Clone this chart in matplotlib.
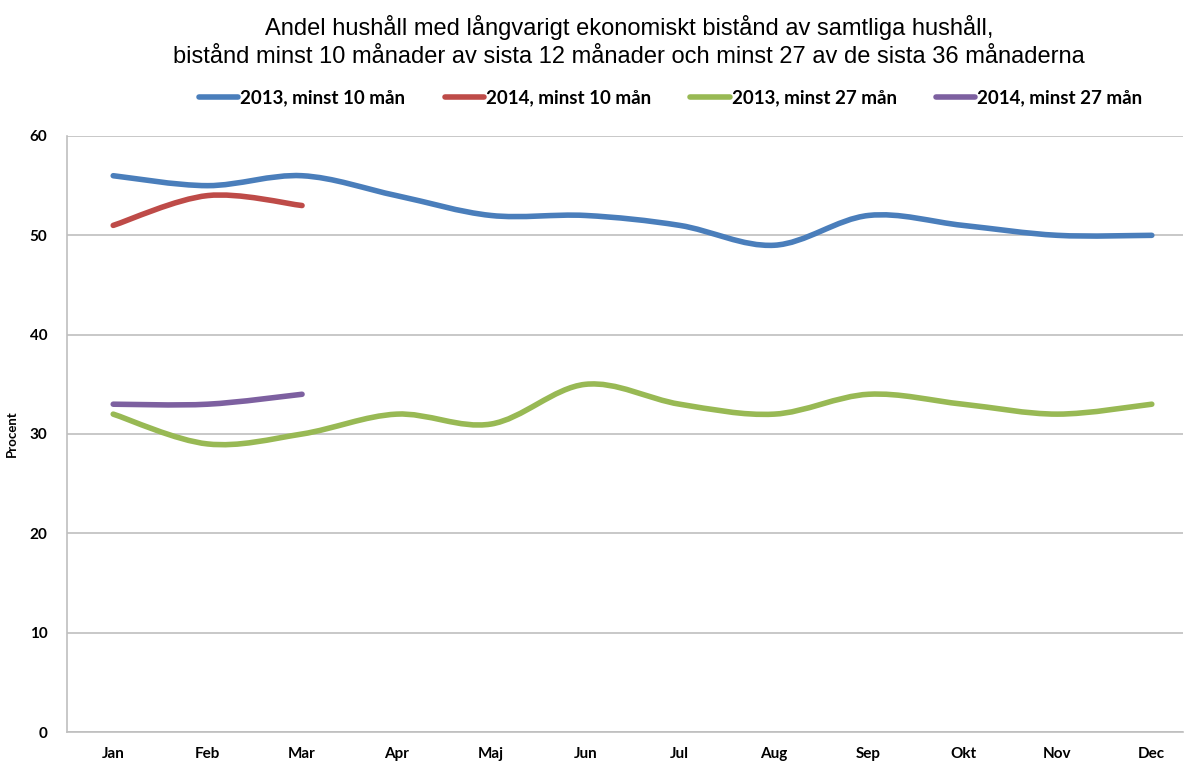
import matplotlib
matplotlib.use("Agg")
import matplotlib.pyplot as plt
import numpy as np
from matplotlib.path import Path
from matplotlib.patches import PathPatch
from matplotlib.lines import Line2D

months = ["Jan", "Feb", "Mar", "Apr", "Maj", "Jun", "Jul", "Aug", "Sep", "Okt", "Nov", "Dec"]
s2013_10 = [56, 55, 56, 54, 52, 52, 51, 49, 52, 51, 50, 50]
s2014_10 = [51, 54, 53]
s2013_27 = [32, 29, 30, 32, 31, 35, 33, 32, 34, 33, 32, 33]
s2014_27 = [33, 33, 34]

labels = ["2013, minst 10 mån", "2014, minst 10 mån", "2013, minst 27 mån", "2014, minst 27 mån"]
colors = ["#4A7EBB", "#BE4B48", "#98B954", "#7D60A0"]

bold_font = ["Lato", "DejaVu Sans"]


def smooth_path(xs, ys):
    # Excel-style smoothed line: cubic bezier through points
    pts = np.column_stack([xs, ys]).astype(float)
    n = len(pts)
    verts = [pts[0]]
    codes = [Path.MOVETO]
    for i in range(n - 1):
        p0 = pts[i - 1] if i > 0 else pts[i]
        p1 = pts[i]
        p2 = pts[i + 1]
        p3 = pts[i + 2] if i + 2 < n else pts[i + 1]
        c1 = p1 + (p2 - p0) / 6.0
        c2 = p2 - (p3 - p1) / 6.0
        verts += [c1, c2, p2]
        codes += [Path.CURVE4] * 3
    return Path(verts, codes)


fig = plt.figure(figsize=(11.87, 7.61), dpi=100)
ax = fig.add_axes([0.0564, 0.0381, 0.9402, 0.7832])

series = [s2013_10, s2014_10, s2013_27, s2014_27]
for vals, col in zip(series, colors):
    x = np.arange(len(vals))
    patch = PathPatch(smooth_path(x, vals), facecolor="none", edgecolor=col,
                      lw=4, capstyle="round", joinstyle="round")
    ax.add_patch(patch)

ax.set_xlim(-0.49, 11.33)
ax.set_ylim(0, 60)
ax.set_yticks(range(0, 61, 10))
ax.set_xticks(range(12))
ax.set_xticklabels(months)
ax.grid(axis="y", color="#BFBFBF", lw=1.2)
ax.set_axisbelow(True)
for side in ["top", "right"]:
    ax.spines[side].set_visible(False)
ax.spines["left"].set_color("#BFBFBF")
ax.spines["bottom"].set_color("#BFBFBF")
ax.spines["left"].set_linewidth(1.2)
ax.spines["bottom"].set_linewidth(1.2)
ax.tick_params(axis="x", length=0, pad=11)
ax.tick_params(axis="y", length=0, pad=14)
for t in ax.get_xticklabels() + ax.get_yticklabels():
    t.set_family(bold_font)
    t.set_fontweight("bold")
    t.set_fontsize(11)
ax.set_ylabel("Procent", family=bold_font, fontweight="bold", fontsize=9.5)
ax.yaxis.set_label_coords(-0.044, 0.5)

fig.text(0.53, 0.98, "Andel hushåll med långvarigt ekonomiskt bistånd av samtliga hushåll,\n"
         "bistånd minst 10 månader av sista 12 månader och minst 27 av de sista 36 månaderna",
         ha="center", va="top", fontsize=17, family=["Liberation Sans", "DejaVu Sans"],
         linespacing=1.35)

handles = [Line2D([], [], color=c, lw=4, solid_capstyle="round") for c in colors]
leg = fig.legend(handles, labels, loc="center", bbox_to_anchor=(0.565, 0.871), ncol=4,
                 frameon=False, handlelength=2.1, handletextpad=0.1, columnspacing=2.1,
                 prop={"family": bold_font, "weight": "bold", "size": 13.5})

fig.savefig("out.png", dpi=100)
